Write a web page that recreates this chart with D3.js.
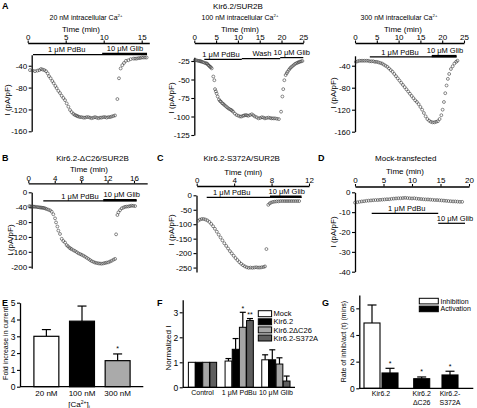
<!DOCTYPE html>
<html><head><meta charset="utf-8">
<script src="https://cdn.jsdelivr.net/npm/d3@7"></script>
<style>body{margin:0;background:#fff}svg{display:block}</style>
</head><body><svg id="c" width="477" height="408"></svg>
<script>
// ---------------- DATA ----------------
// Panel A: current traces (time min, I pA/pF)
const traceA1 = [[0.3,-48],[0.65,-49],[0.96,-50],[1.27,-49],[1.53,-48],[1.75,-46],[1.97,-47],[2.19,-48],[2.41,-50],[2.63,-54],[2.8,-59],[3.02,-63],[3.24,-68],[3.42,-72],[3.64,-77],[3.81,-81],[4.03,-86],[4.25,-90],[4.47,-95],[4.69,-99],[4.91,-103],[5.13,-109],[5.35,-115],[5.57,-121],[5.79,-125],[6.0,-128],[6.18,-130],[6.36,-131],[6.51,-132],[6.66,-133],[6.88,-134],[7.1,-134],[7.32,-135],[7.54,-135],[7.76,-134],[7.98,-134],[8.2,-135],[8.42,-136],[8.64,-135],[8.86,-134],[9.08,-135],[9.3,-136],[9.52,-135],[9.73,-135],[9.95,-134],[10.17,-134],[10.39,-135],[10.6,-134],[10.83,-134],[11.05,-133],[11.27,-132],[11.49,-131],[11.8,-101],[12.01,-63],[12.23,-45],[12.45,-39],[12.67,-35],[12.93,-31],[13.24,-30],[13.55,-28],[13.9,-27],[14.12,-27],[14.34,-27],[14.56,-26],[14.78,-26],[15.0,-25],[15.2,-25],[15.43,-25],[15.65,-25]];
const traceA2 = [[0.16,-23.6],[0.45,-24],[0.78,-24.6],[1.05,-25],[1.3,-25],[1.5,-25.5],[1.7,-26],[2.0,-26.5],[2.3,-27.3],[2.6,-28],[2.84,-28.2],[3.0,-29],[3.2,-30.4],[3.4,-31.5],[3.6,-32.7],[3.8,-33.5],[4.0,-35],[4.36,-46],[4.6,-51],[4.75,-63],[4.95,-66],[5.13,-69],[5.36,-73],[5.66,-77],[5.9,-79],[6.12,-80],[6.4,-82],[6.65,-83],[6.9,-84.5],[7.2,-86],[7.5,-87.5],[7.8,-89],[8.1,-90],[8.4,-91],[8.65,-92],[8.9,-93.5],[9.3,-96],[9.7,-98],[10.1,-99],[10.5,-100],[10.85,-100],[11.2,-99],[11.5,-98.5],[11.8,-98],[12.1,-98.5],[12.4,-99],[12.8,-98],[13.2,-97],[13.55,-98.5],[13.9,-100],[14.3,-101],[14.7,-102.5],[15.1,-102],[15.5,-101],[15.85,-101.5],[16.2,-102.5],[16.6,-102],[17.0,-101.5],[17.4,-102],[17.75,-102.5],[18.1,-102.5],[18.5,-102.5],[18.95,-103],[19.4,-103.5],[19.9,-93.5],[20.2,-73],[20.4,-63],[20.65,-51],[20.95,-44],[21.2,-41.5],[21.4,-39.5],[21.7,-37],[21.95,-35],[22.2,-33.5],[22.5,-32],[22.8,-30.5],[23.1,-29],[23.4,-28],[23.7,-27.3],[23.95,-26.5],[24.2,-26],[24.5,-25.5],[24.8,-25]];
const traceA3 = [[0.2,-33],[0.6,-32],[1.0,-31],[1.4,-31],[1.8,-31],[2.2,-31],[2.6,-31],[3.0,-31],[3.4,-32],[3.8,-32],[4.2,-32],[4.6,-33],[5.0,-33],[5.4,-34],[5.8,-35],[6.2,-36],[6.6,-38],[7.0,-40],[7.4,-42],[7.8,-45],[8.2,-48],[8.6,-51],[9.0,-55],[9.4,-59],[9.8,-63],[10.2,-67],[10.6,-71],[11.0,-75],[11.4,-79],[11.8,-83],[12.2,-87],[12.6,-91],[13.0,-95],[13.4,-99],[13.8,-103],[14.2,-106],[14.6,-110],[15.0,-115],[15.4,-120],[15.8,-126],[16.2,-132],[16.6,-137],[17.0,-140],[17.4,-142],[17.8,-143],[18.2,-143],[18.6,-142],[19.0,-141],[19.4,-137],[19.8,-130],[20.1,-120],[20.4,-106],[20.7,-90],[21.0,-76],[21.3,-64],[21.6,-55],[22.0,-46],[22.4,-41],[22.8,-36],[23.2,-33],[23.5,-31]];
// Panels B, C, D
const traceB = [[0.16,-37],[0.35,-38],[0.51,-38.6],[0.7,-38.5],[0.86,-38.6],[1.05,-39],[1.27,-39.5],[1.47,-40],[1.67,-40.4],[1.85,-41],[2.03,-41.3],[2.2,-41.8],[2.38,-42.2],[2.58,-43.5],[2.78,-45],[3.03,-46.7],[3.29,-48.5],[3.54,-52],[3.79,-59],[4.05,-70],[4.2,-81],[4.4,-92],[4.55,-103],[4.8,-112],[5.06,-125],[5.3,-131],[5.56,-135],[5.81,-142],[6.0,-145],[6.22,-149],[6.4,-151],[6.57,-153],[6.85,-156],[7.08,-158],[7.35,-161],[7.58,-164],[7.85,-166],[8.09,-168],[8.35,-170.5],[8.59,-173],[8.85,-176],[9.1,-179],[9.35,-182],[9.6,-185],[9.85,-187],[10.1,-189],[10.35,-190],[10.6,-191],[10.85,-191.5],[11.12,-192],[11.37,-191],[11.62,-190],[11.87,-189],[12.13,-188],[12.38,-186],[12.63,-184],[12.9,-181],[13.14,-179],[13.29,-113],[13.49,-61],[13.64,-54],[13.89,-48],[14.15,-43],[14.4,-41],[14.65,-39],[14.9,-38.5],[15.16,-38],[15.4,-37],[15.66,-36],[15.9,-36.5],[16.17,-37]];
const traceC = [[0.15,-88],[0.35,-84],[0.55,-82],[0.75,-82],[0.95,-84],[1.15,-87],[1.35,-92],[1.55,-99],[1.75,-107],[1.95,-116],[2.15,-126],[2.35,-136],[2.55,-146],[2.75,-156],[2.95,-166],[3.15,-175],[3.35,-184],[3.55,-193],[3.75,-201],[3.95,-209],[4.15,-217],[4.35,-224],[4.55,-231],[4.75,-237],[4.95,-242],[5.15,-246],[5.35,-249],[5.55,-251],[5.75,-250],[5.95,-251],[6.15,-250],[6.35,-249],[6.55,-250],[6.75,-250],[6.95,-249],[7.15,-248],[7.3,-246],[7.45,-186],[7.65,-33],[7.8,-28],[7.95,-25],[8.15,-23],[8.35,-22],[8.55,-21],[8.75,-21],[8.95,-20],[9.15,-20],[9.35,-20],[9.55,-20],[9.75,-20],[9.95,-20],[10.15,-20],[10.35,-20],[10.55,-20],[10.75,-20],[10.95,-20]];
const traceD = [[0,-5.2],[0.4,-5.0],[0.8,-4.8],[1.2,-4.6],[1.6,-4.5],[2,-4.3],[2.4,-4.2],[2.8,-4.1],[3.2,-4.0],[3.6,-3.9],[4,-3.9],[4.4,-3.8],[4.8,-3.7],[5.2,-3.6],[5.6,-3.5],[6,-3.5],[6.4,-3.3],[6.8,-3.2],[7.2,-3.1],[7.6,-3.0],[8,-3.0],[8.4,-2.9],[8.8,-2.8],[9.2,-2.9],[9.6,-3.0],[10,-3.1],[10.4,-3.0],[10.8,-3.2],[11.2,-3.3],[11.6,-3.4],[12,-3.5],[12.4,-3.6],[12.8,-3.6],[13.2,-3.7],[13.6,-3.8],[14,-3.9],[14.4,-3.9],[14.8,-4.0],[15.2,-4.1],[15.6,-4.2],[16,-4.3],[16.4,-4.4],[16.8,-4.5],[17.2,-4.6],[17.6,-4.6],[18,-4.7],[18.4,-4.8],[18.8,-4.8]];
// drug application periods (min)
const pdbuA1 = [0.7, 15.7], glibA1 = [9.8, 15.7];
const pdbuA2 = [2.3, 10.9], washA2 = [10.9, 19.7], glibA2 = [19.7, 25];
const pdbuA3 = [3.4, 23.3], glibA3 = [17.6, 23.3];
const pdbuB = [2.27, 16.4], glibB = [11.35, 16.4];
const pdbuC = [1.07, 11.2], glibC = [7.83, 11.2];
const pdbuD = [2.93, 14.6], glibD = [14.6, 19.3];
// Panel E
const catsE = ["20 nM", "100 nM", "300 nM"];
const valsE = [3.0, 3.9, 1.55];
const errE = [0.4, 0.9, 0.4];
// Panel F
const groupsF = ["Control", "1 \u03bcM PdBu", "10 \u03bcM Glib"];
const seriesF = ["Mock", "Kir6.2", "Kir6.2\u0394C26", "Kir6.2-S372A"];
const mockF = [1, 1.05, 1.1], mockErrF = [0, 0.1, 0.2];
const kirF = [1, 1.52, 1.1], kirErrF = [0, 0.43, 0.4];
const dc26F = [1, 2.4, 0.93], dc26ErrF = [0, 0.6, 0.25];
const s372F = [1, 2.67, 0.25], s372ErrF = [0, 0.08, 0.2];
// Panel G
const groupsG = ["Kir6.2", "Kir6.2 \u0394C26", "Kir6.2- S372A"];
const inhG = [4.9, null, null], inhErrG = [1.35, null, null];
const actG = [1.15, 0.72, 1.0], actErrG = [0.35, 0.13, 0.28];

// ---------------- DRAW ----------------
const svg = d3.select("#c");
const FONT = '"Liberation Sans", Arial, Helvetica, sans-serif';
svg.attr("font-family", FONT);

function label(g, x, y, s, fs, anchor, weight) {
  return g.append("text").attr("x", x).attr("y", y).attr("font-size", fs)
    .attr("text-anchor", anchor || "middle").attr("font-weight", weight || "normal")
    .attr("fill", "#000").text(s);
}
function vlabel(g, x, y, s, fs) {
  return g.append("text").attr("transform", `translate(${x},${y}) rotate(-90)`)
    .attr("font-size", fs).attr("text-anchor", "middle").attr("dy", "0.35em").text(s);
}
function caText(g, x, y, prefix, fs) {
  const t = g.append("text").attr("x", x).attr("y", y).attr("font-size", fs).attr("text-anchor", "middle");
  t.append("tspan").text(prefix);
  t.append("tspan").attr("font-size", fs * 0.62).attr("dy", -fs * 0.38).text("2+");
  return t;
}
function styleAxis(sel, fs) {
  sel.attr("font-family", FONT).attr("font-size", fs);
  sel.selectAll("path.domain").attr("stroke", "#000").attr("stroke-width", 1.3);
  sel.selectAll(".tick line").attr("stroke", "#000").attr("stroke-width", 1.1);
  sel.selectAll(".tick text").attr("fill", "#000");
}

function tracePanel(c) {
  const g = svg.append("g");
  const x = d3.scaleLinear().domain(c.xd).range(c.xr);
  const y = d3.scaleLinear().domain(c.yd).range(c.yr);
  g.append("g").attr("transform", `translate(0,${c.xAxisY})`)
    .call(d3.axisTop(x).tickValues(c.xt).tickSize(2.5).tickSizeOuter(0).tickPadding(c.pad).tickFormat(d => String(d)))
    .call(s => styleAxis(s, 8));
  g.append("g").attr("transform", `translate(${c.yAxisX},0)`)
    .call(d3.axisLeft(y).tickValues(c.yt).tickSize(3).tickSizeOuter(0).tickPadding(1.5).tickFormat(d => String(d)))
    .call(s => styleAxis(s, 8));
  c.bars.forEach(b => {
    g.append("line").attr("x1", x(b.t[0])).attr("x2", x(b.t[1]))
      .attr("y1", b.y).attr("y2", b.y).attr("stroke", "#000").attr("stroke-width", b.w);
  });
  c.labels.forEach(l => label(g, l.x, l.y, l.s, 7.5));
  label(g, c.time[0], c.time[1], "Time (min)", 8);
  vlabel(g, c.ylab[0], c.ylab[1], "I (pA/pF)", 8);
  g.append("g").selectAll("circle").data(c.data).join("circle")
    .attr("cx", d => x(d[0])).attr("cy", d => y(d[1])).attr("r", 1.45)
    .attr("fill", "none").attr("stroke", "#3a3a3a").attr("stroke-width", 0.6);
}

// header texts
label(svg, 2, 9, "A", 9, "start", "bold");
label(svg, 238, 8.5, "Kir6.2/SUR2B", 8);
caText(svg, 86, 19.5, "20 nM intracellular Ca", 7);
caText(svg, 240, 20, "100 nM intracellular Ca", 7);
caText(svg, 399, 20, "300 nM intracellular Ca", 7);

tracePanel({data: traceA1, xd: [0, 16], xr: [27.7, 149.3], xt: [0, 5, 10, 15], xAxisY: 43, pad: 0.5,
  yd: [-160, -20], yr: [131.3, 54.8], yt: [-40, -80, -120, -160], yAxisX: 31.7, ylab: [7, 100], time: [81, 31.8],
  bars: [{t: pdbuA1, y: 54.6, w: 1.2}, {t: glibA1, y: 53.9, w: 2.4}],
  labels: [{s: "1 \u03bcM PdBu", x: 66.7, y: 52}, {s: "10 \u03bcM Glib", x: 125, y: 51}]});
tracePanel({data: traceA2, xd: [0, 25], xr: [194.3, 303.3], xt: [0, 5, 10, 15, 20, 25], xAxisY: 43, pad: 0.5,
  yd: [-125, -20], yr: [135, 57.3], yt: [-25, -50, -75, -100, -125], yAxisX: 194.3, ylab: [171, 98], time: [240, 31.8],
  bars: [{t: pdbuA2, y: 59.4, w: 1.2}, {t: washA2, y: 58.6, w: 1.2}, {t: glibA2, y: 57.6, w: 1.2}],
  labels: [{s: "1 \u03bcM PdBu", x: 221, y: 56.5}, {s: "Wash", x: 262, y: 56}, {s: "10 \u03bcM Glib", x: 291.7, y: 55.3}]});
tracePanel({data: traceA3, xd: [0, 25], xr: [355, 464], xt: [0, 5, 10, 15, 20, 25], xAxisY: 43, pad: 0.5,
  yd: [-160, -22], yr: [131.7, 55.8], yt: [-40, -80, -120, -160], yAxisX: 355, ylab: [333, 93], time: [403, 31.8],
  bars: [{t: pdbuA3, y: 56.8, w: 1.2}, {t: glibA3, y: 56.1, w: 2.4}],
  labels: [{s: "1 \u03bcM PdBu", x: 400, y: 54.5}, {s: "10 \u03bcM Glib", x: 445, y: 52.8}]});

// Row 2
label(svg, 2, 161, "B", 9, "start", "bold");
label(svg, 92.5, 160.5, "Kir6.2-\u0394C26/SUR2B", 8);
label(svg, 157, 161, "C", 9, "start", "bold");
label(svg, 241.7, 160.5, "Kir6.2-S372A/SUR2B", 8);
label(svg, 318, 161, "D", 9, "start", "bold");
label(svg, 405.7, 160.5, "Mock-transfected", 8);

tracePanel({data: traceB, xd: [0, 18], xr: [28.3, 147.2], xt: [0, 4, 8, 12, 16], xAxisY: 183.3, pad: 0.3,
  yd: [-204, 0], yr: [268.2, 192.3], yt: [0, -40, -80, -120, -160, -200], yAxisX: 31.7, ylab: [10, 240], time: [89, 172],
  bars: [{t: pdbuB, y: 200.8, w: 1.2}, {t: glibB, y: 200.1, w: 2.4}],
  labels: [{s: "1 \u03bcM PdBu", x: 80, y: 199}, {s: "10 \u03bcM Glib", x: 121.7, y: 197.3}]});
tracePanel({data: traceC, xd: [0, 12], xr: [196.7, 309], xt: [0, 4, 8, 12], xAxisY: 186, pad: 0.6,
  yd: [-265, 0], yr: [271.9, 195.3], yt: [0, -50, -100, -150, -200, -250], yAxisX: 196.5, ylab: [171, 230], time: [243.3, 174.5],
  bars: [{t: pdbuC, y: 197.4, w: 1.2}, {t: glibC, y: 196.7, w: 2.4}],
  labels: [{s: "1 \u03bcM PdBu", x: 231.7, y: 194.6}, {s: "10 \u03bcM Glib", x: 286.7, y: 194}]});
tracePanel({data: traceD, xd: [0, 20], xr: [355, 469], xt: [0, 5, 10, 15, 20], xAxisY: 186.5, pad: 0.6,
  yd: [-40, 0], yr: [271.7, 192.3], yt: [0, -10, -20, -30, -40], yAxisX: 355, ylab: [333, 232], time: [405, 174],
  bars: [{t: pdbuD, y: 213.3, w: 1.2}, {t: glibD, y: 223.3, w: 1.2}],
  labels: [{s: "1 \u03bcM PdBu", x: 406.7, y: 211}, {s: "10 \u03bcM Glib", x: 455, y: 221}]});

// ---------- Panel E ----------
(function () {
  const g = svg.append("g");
  label(g, 2, 306, "E", 9, "start", "bold");
  const y = d3.scaleLinear().domain([0, 5]).range([386.7, 302.7]);
  const x = d3.scaleBand().domain(catsE).range([25, 139]).paddingInner(0.3).paddingOuter(0.25);
  const fills = ["#fff", "#000", "#aaaaaa"];
  catsE.forEach((c, i) => {
    const cx = x(c) + x.bandwidth() / 2;
    g.append("line").attr("x1", cx).attr("x2", cx).attr("y1", y(valsE[i])).attr("y2", y(valsE[i] + errE[i]))
      .attr("stroke", "#000").attr("stroke-width", 1.2);
    g.append("line").attr("x1", cx - 4.5).attr("x2", cx + 4.5).attr("y1", y(valsE[i] + errE[i])).attr("y2", y(valsE[i] + errE[i]))
      .attr("stroke", "#000").attr("stroke-width", 1.2);
    g.append("rect").attr("x", x(c)).attr("y", y(valsE[i])).attr("width", x.bandwidth())
      .attr("height", y(0) - y(valsE[i])).attr("fill", fills[i]).attr("stroke", "#000").attr("stroke-width", 1.2);
  });
  const c3 = x(catsE[2]) + x.bandwidth() / 2;
  label(g, c3, y(valsE[2] + errE[2]) - 2.5, "*", 7);
  g.append("g").attr("transform", "translate(20,0)")
    .call(d3.axisLeft(y).tickValues([0, 1, 2, 3, 4, 5]).tickSize(3).tickSizeOuter(0).tickPadding(1.5).tickFormat(d3.format("d")))
    .call(s => styleAxis(s, 8.5));
  const xa = g.append("g").attr("transform", `translate(0,${y(0)})`)
    .call(d3.axisBottom(x).tickSize(0).tickPadding(3.5))
    .call(s => styleAxis(s, 8));
  xa.select("path.domain").remove();
  g.append("line").attr("x1", 20).attr("x2", 143.3).attr("y1", y(0)).attr("y2", y(0)).attr("stroke", "#000").attr("stroke-width", 1.3);
  const t = g.append("text").attr("x", 79).attr("y", 407).attr("font-size", 8).attr("text-anchor", "middle");
  t.append("tspan").text("[Ca");
  t.append("tspan").attr("font-size", 5).attr("dy", -3).text("2+");
  t.append("tspan").attr("dy", 3).text("]");
  t.append("tspan").attr("font-size", 5).attr("dy", 1.5).text("i");
  vlabel(g, 6, 343.3, "Fold increase in current", 7);
})();

// ---------- Panel F ----------
(function () {
  const g = svg.append("g");
  label(g, 157, 306, "F", 9, "start", "bold");
  const y = d3.scaleLinear().domain([0, 3.5]).range([387.3, 299.8]);
  const x0 = d3.scaleBand().domain(groupsF).range([182.7, 295.7]).paddingInner(0.23).paddingOuter(0.155);
  const x1 = d3.scaleBand().domain(seriesF).range([0, x0.bandwidth()]).paddingInner(0.06);
  const vals = [mockF, kirF, dc26F, s372F];
  const errs = [mockErrF, kirErrF, dc26ErrF, s372ErrF];
  const fills = ["#fff", "#000", "#a6a6a6", "#5e5e5e"];
  groupsF.forEach((gr, gi) => {
    seriesF.forEach((s, si) => {
      const v = vals[si][gi], e = errs[si][gi];
      const bx = x0(gr) + x1(s), cx = bx + x1.bandwidth() / 2;
      if (e > 0) {
        g.append("line").attr("x1", cx).attr("x2", cx).attr("y1", y(v)).attr("y2", y(v + e)).attr("stroke", "#000").attr("stroke-width", 1.2);
        g.append("line").attr("x1", cx - 3).attr("x2", cx + 3).attr("y1", y(v + e)).attr("y2", y(v + e)).attr("stroke", "#000").attr("stroke-width", 1.2);
      }
      g.append("rect").attr("x", bx).attr("y", y(v)).attr("width", x1.bandwidth()).attr("height", y(0) - y(v))
        .attr("fill", fills[si]).attr("stroke", "#000").attr("stroke-width", 1);
    });
  });
  const gP = groupsF[1];
  const cxD = x0(gP) + x1(seriesF[2]) + x1.bandwidth() / 2;
  const cxS = x0(gP) + x1(seriesF[3]) + x1.bandwidth() / 2;
  label(g, cxD, y(dc26F[1] + dc26ErrF[1]) - 1.5, "*", 7);
  label(g, cxS, y(s372F[1] + s372ErrF[1]) - 1.5, "**", 7);
  g.append("g").attr("transform", "translate(182.7,0)")
    .call(d3.axisLeft(y).tickValues([0, 1, 2, 3]).tickSize(3).tickSizeOuter(0).tickPadding(1.5).tickFormat(d3.format("d")))
    .call(s => styleAxis(s, 8.5));
  const xa = g.append("g").attr("transform", `translate(0,${y(0)})`)
    .call(d3.axisBottom(x0).tickSize(0).tickPadding(3))
    .call(s => styleAxis(s, 7));
  xa.select("path.domain").remove();
  g.append("line").attr("x1", 182.7).attr("x2", 295).attr("y1", y(0)).attr("y2", y(0)).attr("stroke", "#000").attr("stroke-width", 1.3);
  vlabel(g, 168.3, 348, "Normalized I", 8);
  seriesF.forEach((s, i) => {
    const ly = 310.7 + i * 8.1;
    g.append("rect").attr("x", 258.3).attr("y", ly).attr("width", 13.3).attr("height", 6)
      .attr("fill", fills[i]).attr("stroke", "#000").attr("stroke-width", 1);
    label(g, 273.5, ly + 5.6, s, 7.5, "start");
  });
})();

// ---------- Panel G ----------
(function () {
  const g = svg.append("g");
  label(g, 322, 306, "G", 9, "start", "bold");
  const y = d3.scaleLinear().domain([0, 7]).range([388.3, 295]);
  const x = d3.scaleOrdinal().domain(groupsG).range([381, 421.7, 450]);
  const bw = 16;
  groupsG.forEach((gr, i) => {
    const pair = inhG[i] != null;
    const bars = [];
    if (pair) bars.push({v: inhG[i], e: inhErrG[i], fill: "#fff", cx: x(gr) - bw / 2 - 1});
    bars.push({v: actG[i], e: actErrG[i], fill: "#000", cx: pair ? x(gr) + bw / 2 + 1 : x(gr)});
    bars.forEach(b => {
      g.append("line").attr("x1", b.cx).attr("x2", b.cx).attr("y1", y(b.v)).attr("y2", y(b.v + b.e)).attr("stroke", "#000").attr("stroke-width", 1.2);
      g.append("line").attr("x1", b.cx - 4.5).attr("x2", b.cx + 4.5).attr("y1", y(b.v + b.e)).attr("y2", y(b.v + b.e)).attr("stroke", "#000").attr("stroke-width", 1.2);
      g.append("rect").attr("x", b.cx - bw / 2).attr("y", y(b.v)).attr("width", bw).attr("height", y(0) - y(b.v))
        .attr("fill", b.fill).attr("stroke", "#000").attr("stroke-width", 1.1);
      if (b.fill === "#000") label(g, b.cx, y(b.v + b.e) - 2.5, "*", 7);
    });
    gr.split(" ").forEach((line, li) => label(g, x(gr), 396 + li * 8.5, line, 7));
  });
  g.append("g").attr("transform", "translate(359.3,0)")
    .call(d3.axisLeft(y).tickValues([0, 2, 4, 6]).tickSize(3).tickSizeOuter(0).tickPadding(1.5).tickFormat(d3.format("d")))
    .call(s => styleAxis(s, 8.5));
  g.append("line").attr("x1", 359.3).attr("x2", 473.3).attr("y1", y(0)).attr("y2", y(0)).attr("stroke", "#000").attr("stroke-width", 1.3);
  vlabel(g, 343.3, 341.7, "Rate of inhib/act (\u03c4) (mins)", 7);
  [["Inhibition", "#fff"], ["Activation", "#000"]].forEach((d, i) => {
    const ly = 298.3 + i * 7.8;
    g.append("rect").attr("x", 419.3).attr("y", ly).attr("width", 19).attr("height", 5.6)
      .attr("fill", d[1]).attr("stroke", "#000").attr("stroke-width", 1);
    label(g, 440.5, ly + 5.3, d[0], 7, "start");
  });
})();
</script>
</body></html>
